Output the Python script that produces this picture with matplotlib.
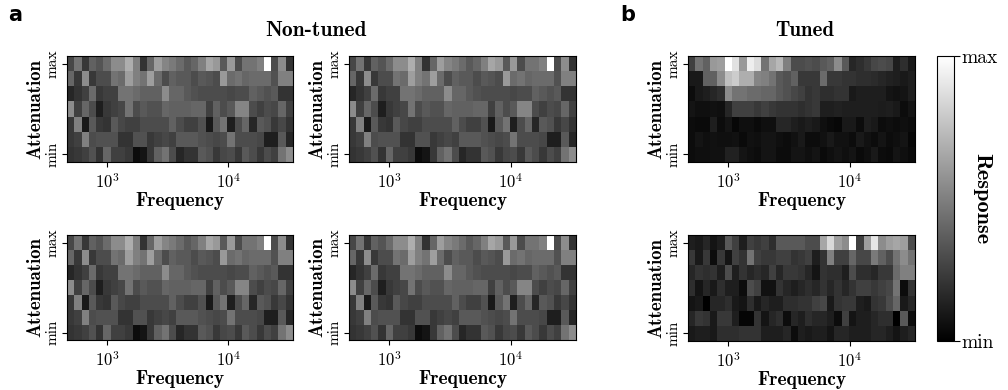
import matplotlib
matplotlib.use("Agg")
import matplotlib.pyplot as plt
import numpy as np

# Frequencies (Hz), 1/5 octave steps
freqs = [500, 574, 660, 758, 871, 1000, 1149, 1320, 1516, 1741, 2000, 2297,
         2639, 3031, 3482, 4000, 4595, 5278, 6063, 6964, 8000, 9190, 10556,
         12126, 13929, 16000, 18379, 21112, 24251, 27858, 32000]
n_levels = 7

# Responses, rows from max attenuation (top) to min attenuation (bottom)
non_tuned = [
    [0.28, 0.45, 0.22, 0.38, 0.33, 0.42, 0.55, 0.55, 0.68, 0.50, 0.20, 0.40, 0.62, 0.52, 0.48, 0.42,
     0.35, 0.40, 0.50, 0.65, 0.60, 0.35, 0.60, 0.30, 0.45, 0.45, 0.50, 1.00, 0.30, 0.55, 0.20],
    [0.40, 0.22, 0.55, 0.22, 0.30, 0.30, 0.45, 0.42, 0.62, 0.50, 0.45, 0.62, 0.42, 0.30, 0.38, 0.35,
     0.35, 0.30, 0.35, 0.33, 0.30, 0.60, 0.42, 0.45, 0.40, 0.42, 0.42, 0.42, 0.32, 0.50, 0.50],
    [0.15, 0.20, 0.25, 0.42, 0.22, 0.25, 0.25, 0.45, 0.45, 0.42, 0.38, 0.38, 0.38, 0.55, 0.40, 0.40,
     0.35, 0.32, 0.30, 0.30, 0.30, 0.30, 0.28, 0.30, 0.30, 0.38, 0.35, 0.32, 0.35, 0.20, 0.20],
    [0.55, 0.25, 0.40, 0.30, 0.12, 0.22, 0.25, 0.28, 0.45, 0.30, 0.35, 0.32, 0.32, 0.40, 0.38, 0.38,
     0.38, 0.40, 0.40, 0.25, 0.38, 0.30, 0.35, 0.52, 0.52, 0.30, 0.25, 0.30, 0.28, 0.40, 0.25],
    [0.22, 0.50, 0.10, 0.35, 0.22, 0.20, 0.35, 0.28, 0.25, 0.25, 0.30, 0.30, 0.30, 0.30, 0.38, 0.30,
     0.25, 0.25, 0.32, 0.10, 0.35, 0.45, 0.12, 0.30, 0.40, 0.15, 0.35, 0.32, 0.22, 0.28, 0.20],
    [0.22, 0.25, 0.50, 0.30, 0.32, 0.32, 0.32, 0.20, 0.20, 0.32, 0.32, 0.22, 0.25, 0.28, 0.25, 0.35,
     0.35, 0.35, 0.32, 0.30, 0.28, 0.30, 0.45, 0.30, 0.30, 0.30, 0.28, 0.12, 0.12, 0.35, 0.15],
    [0.20, 0.22, 0.25, 0.32, 0.20, 0.40, 0.25, 0.25, 0.22, 0.05, 0.08, 0.22, 0.38, 0.45, 0.30, 0.15,
     0.20, 0.20, 0.35, 0.32, 0.22, 0.28, 0.30, 0.22, 0.35, 0.30, 0.22, 0.30, 0.25, 0.45, 0.55],
]

tuned_low = [
    [0.25, 0.45, 0.38, 0.60, 0.62, 1.00, 0.88, 0.60, 0.93, 0.86, 0.45, 0.65, 0.72, 0.50, 0.30, 0.30,
     0.32, 0.30, 0.35, 0.38, 0.55, 0.35, 0.15, 0.18, 0.22, 0.28, 0.30, 0.28, 0.12, 0.18, 0.10],
    [0.10, 0.10, 0.38, 0.38, 0.55, 0.75, 0.80, 0.68, 0.68, 0.52, 0.50, 0.45, 0.35, 0.32, 0.38, 0.22,
     0.22, 0.22, 0.42, 0.22, 0.22, 0.20, 0.20, 0.18, 0.18, 0.17, 0.15, 0.13, 0.12, 0.10, 0.12],
    [0.05, 0.10, 0.12, 0.15, 0.18, 0.55, 0.45, 0.45, 0.42, 0.42, 0.40, 0.40, 0.35, 0.32, 0.28, 0.25,
     0.20, 0.22, 0.18, 0.18, 0.20, 0.20, 0.10, 0.12, 0.12, 0.12, 0.12, 0.08, 0.07, 0.08, 0.12],
    [0.08, 0.06, 0.06, 0.07, 0.06, 0.15, 0.25, 0.25, 0.25, 0.22, 0.25, 0.22, 0.20, 0.20, 0.20, 0.18,
     0.20, 0.22, 0.12, 0.12, 0.13, 0.12, 0.12, 0.12, 0.12, 0.12, 0.11, 0.12, 0.10, 0.05, 0.08],
    [0.05, 0.04, 0.04, 0.12, 0.05, 0.08, 0.03, 0.06, 0.06, 0.04, 0.06, 0.06, 0.15, 0.15, 0.12, 0.10,
     0.12, 0.10, 0.06, 0.04, 0.03, 0.10, 0.10, 0.05, 0.12, 0.10, 0.05, 0.06, 0.05, 0.06, 0.05],
    [0.05, 0.08, 0.06, 0.07, 0.06, 0.06, 0.07, 0.04, 0.07, 0.06, 0.08, 0.08, 0.06, 0.05, 0.07, 0.10,
     0.05, 0.05, 0.07, 0.10, 0.07, 0.07, 0.05, 0.10, 0.07, 0.05, 0.08, 0.05, 0.06, 0.08, 0.03],
    [0.05, 0.06, 0.06, 0.07, 0.07, 0.13, 0.13, 0.08, 0.06, 0.05, 0.08, 0.08, 0.05, 0.05, 0.08, 0.08,
     0.06, 0.08, 0.04, 0.06, 0.08, 0.06, 0.08, 0.04, 0.06, 0.10, 0.05, 0.04, 0.08, 0.06, 0.04],
]

tuned_high = [
    [0.12, 0.10, 0.15, 0.08, 0.12, 0.35, 0.25, 0.12, 0.25, 0.22, 0.25, 0.18, 0.35, 0.35, 0.35, 0.35,
     0.30, 0.30, 0.65, 0.85, 0.62, 0.55, 1.00, 0.25, 0.62, 0.90, 0.55, 0.62, 0.65, 0.62, 0.30],
    [0.22, 0.10, 0.22, 0.05, 0.22, 0.08, 0.25, 0.20, 0.45, 0.25, 0.22, 0.22, 0.25, 0.25, 0.20, 0.22,
     0.25, 0.12, 0.20, 0.50, 0.25, 0.25, 0.40, 0.28, 0.28, 0.48, 0.38, 0.30, 0.45, 0.55, 0.45],
    [0.15, 0.20, 0.18, 0.20, 0.12, 0.30, 0.12, 0.20, 0.15, 0.18, 0.15, 0.25, 0.15, 0.22, 0.22, 0.20,
     0.15, 0.08, 0.20, 0.18, 0.18, 0.12, 0.30, 0.18, 0.18, 0.15, 0.22, 0.22, 0.42, 0.50, 0.50],
    [0.18, 0.08, 0.15, 0.10, 0.18, 0.12, 0.12, 0.05, 0.30, 0.25, 0.07, 0.07, 0.20, 0.15, 0.12, 0.15,
     0.18, 0.15, 0.20, 0.15, 0.20, 0.15, 0.20, 0.25, 0.25, 0.22, 0.25, 0.28, 0.45, 0.05, 0.20],
    [0.08, 0.10, 0.00, 0.15, 0.15, 0.18, 0.10, 0.08, 0.18, 0.10, 0.15, 0.12, 0.12, 0.18, 0.18, 0.20,
     0.20, 0.25, 0.28, 0.10, 0.20, 0.22, 0.22, 0.12, 0.10, 0.20, 0.22, 0.30, 0.40, 0.10, 0.15],
    [0.15, 0.22, 0.20, 0.10, 0.22, 0.22, 0.12, 0.02, 0.02, 0.20, 0.08, 0.15, 0.18, 0.05, 0.15, 0.12,
     0.18, 0.15, 0.15, 0.12, 0.05, 0.25, 0.08, 0.12, 0.12, 0.15, 0.18, 0.18, 0.00, 0.35, 0.05],
    [0.10, 0.12, 0.12, 0.10, 0.18, 0.18, 0.18, 0.20, 0.20, 0.20, 0.12, 0.12, 0.12, 0.15, 0.05, 0.12,
     0.10, 0.12, 0.12, 0.08, 0.15, 0.15, 0.12, 0.12, 0.12, 0.15, 0.15, 0.12, 0.08, 0.12, 0.15],
]

plt.rcParams["font.family"] = "serif"
plt.rcParams["font.serif"] = ["cmr10"]
plt.rcParams["mathtext.fontset"] = "cm"
plt.rcParams["axes.formatter.use_mathtext"] = True

f = np.array(freqs, dtype=float)
mid = np.sqrt(f[:-1] * f[1:])
x_edges = np.concatenate([[f[0] ** 2 / mid[0]], mid, [f[-1] ** 2 / mid[-1]]])
y_edges = np.arange(n_levels + 1)


def heatmap(ax, data):
    z = np.flipud(np.array(data))
    m = ax.pcolormesh(x_edges, y_edges, z, cmap="gray", vmin=0, vmax=1)
    ax.set_xscale("log")
    ax.set_xlim(x_edges[0], x_edges[-1])
    ax.set_ylim(0, n_levels)
    ax.set_xticks([1e3, 1e4])
    ax.xaxis.set_minor_locator(matplotlib.ticker.NullLocator())
    ax.set_yticks([0.5, n_levels - 0.5])
    ax.set_yticklabels(["min", "max"], rotation=90, va="center", fontsize=11)
    ax.tick_params(axis="x", labelsize=12)
    ax.tick_params(axis="y", pad=2)
    ax.set_xlabel("Frequency", fontfamily="cmb10", fontsize=14, labelpad=1)
    ax.set_ylabel("Attenuation", fontfamily="cmb10", fontsize=13.5, labelpad=1)
    return m


fig = plt.figure(figsize=(10.08, 3.9), dpi=100)
W, H = 1008, 390

def add_axes(x0, x1, y0, y1):
    return fig.add_axes([x0 / W, 1 - y1 / H, (x1 - x0) / W, (y1 - y0) / H])

boxes_a = [(67, 293, 56, 162), (349, 576, 56, 162),
           (67, 293, 235, 340), (349, 576, 235, 340)]
for box in boxes_a:
    heatmap(add_axes(*box), non_tuned)

heatmap(add_axes(688, 915, 56, 162), tuned_low)
mesh = heatmap(add_axes(688, 915, 235, 341), tuned_high)

cax = add_axes(937, 954, 56, 341)
cb = fig.colorbar(mesh, cax=cax)
cb.set_ticks([0, 1])
cb.set_ticklabels(["min", "max"])
cb.ax.tick_params(labelsize=14, length=4, pad=1)
cb.outline.set_linewidth(0.8)
cb.set_label("Response", fontfamily="cmb10", fontsize=16, rotation=270, labelpad=-4)

fig.text(316 / W, 1 - 30 / H, "Non-tuned", fontfamily="cmb10", fontsize=15.5,
         ha="center", va="center")
fig.text(805 / W, 1 - 30 / H, "Tuned", fontfamily="cmb10", fontsize=15,
         ha="center", va="center")
fig.text(8 / W, 1 - 15 / H, "a", fontfamily="DejaVu Sans", fontweight="bold",
         fontsize=15, ha="left", va="center")
fig.text(620 / W, 1 - 15 / H, "b", fontfamily="DejaVu Sans", fontweight="bold",
         fontsize=15, ha="left", va="center")

fig.savefig("out.png", dpi=100)
